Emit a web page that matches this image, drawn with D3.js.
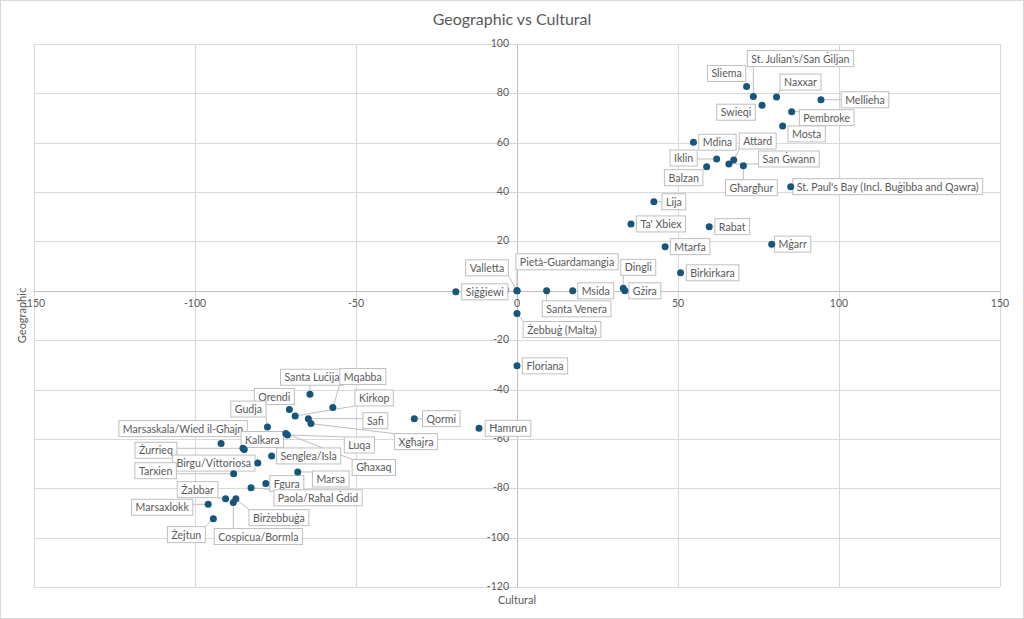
<!doctype html>
<html lang="en">
<head>
    <meta charset="UTF-8">
    <title>Geographic vs Cultural</title>
    <style>
        body { margin: 0; background: #fff; }
        svg text { font-family: Lato, "Noto Sans", sans-serif; fill: #595959; }
    </style>
</head>
<body>

<div class="canvas">
    <svg width="1024" height="619"></svg>
</div>

<script src="https://d3js.org/d3.v7.min.js"></script>
<script>
    // localities, cultural (x) and geographic (y) scores
    const names = [
        'Sliema', "St. Julian's/San Ġiljan", 'Naxxar', 'Mellieha', 'Pembroke', 'Mosta', 'Swieqi',
        'Mdina', 'Attard', 'Iklin', 'San Ġwann', 'Balzan', 'Għargħur', "St. Paul's Bay (Incl. Buġibba and Qawra)",
        'Lija', "Ta' Xbiex", 'Rabat', 'Mtarfa', 'Mġarr', 'Birkirkara', 'Dingli', 'Gżira', 'Msida',
        'Santa Venera', 'Pietà-Guardamangia', 'Valletta', 'Siġġiewi', 'Żebbuġ (Malta)', 'Floriana',
        'Qormi', 'Ħamrun', 'Santa Luċija', 'Mqabba', 'Kirkop', 'Qrendi', 'Gudja', 'Safi', 'Xgħajra',
        'Luqa', 'Għaxaq', 'Marsaskala/Wied il-Għajn', 'Kalkara', 'Żurrieq', 'Senglea/Isla',
        'Birgu/Vittoriosa', 'Tarxien', 'Marsa', 'Fgura', 'Paola/Raħal Ġdid', 'Żabbar', 'Birżebbuġa',
        'Marsaxlokk', 'Cospicua/Bormla', 'Żejtun'
    ];
    const cultural = [
        71.3, 73.4, 80.6, 94.4, 85.3, 82.5, 76.1,
        54.8, 67.3, 62.0, 65.8, 58.9, 70.3, 85.0,
        42.5, 35.4, 59.7, 46.0, 79.1, 50.8, 33.0, 33.5, 17.3,
        9.2, 0, 0, -19.0, 0, 0,
        -31.9, -11.8, -64.3, -57.2, -68.9, -70.7, -77.5, -64.8, -64.0,
        -71.3, -71.8, -91.9, -84.7, -85.1, -76.2,
        -80.5, -88.0, -68.1, -78.0, -82.6, -90.5, -87.3,
        -95.9, -88.1, -94.3
    ];
    const geographic = [
        82.8, 78.7, 78.5, 77.4, 72.6, 66.8, 75.2,
        60.2, 53.0, 53.4, 51.4, 50.3, 50.7, 42.2,
        36.1, 27.1, 26.0, 17.9, 18.9, 7.3, 1.0, 0, 0,
        0, 0, 0, -0.4, -9.2, -30.4,
        -51.8, -55.7, -41.9, -47.3, -50.7, -48.1, -55.2, -51.8, -53.8,
        -58.4, -57.8, -61.9, -64.3, -63.8, -66.9,
        -69.8, -74.1, -73.4, -78.1, -79.8, -84.2, -84.2,
        -86.5, -85.8, -92.3
    ];
    const xTicks = [-150, -100, -50, 0, 50, 100, 150];
    const yTicks = [100, 80, 60, 40, 20, 0, -20, -40, -60, -80, -100, -120];

    // where each data label was dragged to (pixel offset from its point)
    const labelOffsets = [
        [-20, -13], [47, -38], [24, -15], [44, 0], [35, 6], [24, 8], [-26, 7],
        [24, 0], [24, -19], [-33, -1], [60, -5], [-23, 11], [8, 22], [97, 0],
        [20, 0], [30, 0], [23, 0], [25, 0], [21, 0], [32, 0], [15, -21], [20, 0], [23, 0],
        [30, 18], [50, -29], [-30, -23], [29, 0], [45, 16], [28, 0],
        [27, 0], [29, 0], [2, -17], [30, -31], [79, -18], [-15, -13], [-19, -18], [67, 2], [105, 18],
        [72, 10], [88, 34], [-38, -15], [18, -10], [-87, 2], [37, 0],
        [-44, 0], [-78, -3], [33, 7], [21, 0], [67, 10], [-28, -9], [43, 19],
        [-46, 3], [25, 34], [-27, 16]
    ];

    const data = names.map((n, i) => ({
        name: n, x: cultural[i], y: geographic[i], off: labelOffsets[i]
    }));

    const svg = d3.select('.canvas svg');

    svg.append('rect')
        .attr('x', 0.5).attr('y', 0.5)
        .attr('width', 1023).attr('height', 618)
        .attr('fill', '#fff')
        .attr('stroke', '#d9d9d9');

    const x = d3.scaleLinear().domain([-150, 150]).range([34, 1000]);
    const y = d3.scaleLinear().domain([-120, 100]).range([587, 44]);

    // gridlines
    svg.append('g').selectAll('line.v')
        .data(xTicks)
        .enter().append('line')
        .attr('x1', d => Math.round(x(d)) + 0.5).attr('x2', d => Math.round(x(d)) + 0.5)
        .attr('y1', y(100)).attr('y2', y(-120))
        .attr('stroke', d => d === 0 ? '#bfbfbf' : '#d9d9d9');
    svg.append('g').selectAll('line.h')
        .data(yTicks)
        .enter().append('line')
        .attr('y1', d => Math.round(y(d)) + 0.5).attr('y2', d => Math.round(y(d)) + 0.5)
        .attr('x1', x(-150)).attr('x2', x(150))
        .attr('stroke', d => d === 0 ? '#bfbfbf' : '#d9d9d9');

    // tick labels sit on the axes crossing at 0
    svg.append('g').selectAll('text')
        .data(xTicks)
        .enter().append('text')
        .attr('x', d => x(d))
        .attr('y', y(0) + 16)
        .attr('text-anchor', 'middle')
        .attr('font-size', 10.5)
        .text(d => d);
    svg.append('g').selectAll('text')
        .data(yTicks)
        .enter().append('text')
        .attr('x', x(0) - 8)
        .attr('y', d => y(d) + 3)
        .attr('text-anchor', 'end')
        .attr('font-size', 10.5)
        .text(d => d);

    // titles
    svg.append('text')
        .attr('x', 512).attr('y', 25)
        .attr('text-anchor', 'middle')
        .attr('font-size', 16)
        .text('Geographic vs Cultural');
    svg.append('text')
        .attr('x', x(0)).attr('y', 604)
        .attr('text-anchor', 'middle')
        .attr('font-size', 11)
        .text('Cultural');
    svg.append('text')
        .attr('transform', `translate(26, ${(y(100) + y(-120)) / 2}) rotate(-90)`)
        .attr('text-anchor', 'middle')
        .attr('font-size', 11)
        .text('Geographic');

    // labels: measure text first, then lines, boxes, points
    const leaders = svg.append('g');
    const labels = svg.append('g');
    const dots = svg.append('g');

    const lab = labels.selectAll('g')
        .data(data)
        .enter().append('g');
    const txt = lab.append('text')
        .attr('font-size', 10.6)
        .attr('text-anchor', 'middle')
        .attr('x', d => x(d.x) + d.off[0])
        .attr('y', d => y(d.y) + d.off[1] + 4)
        .text(d => d.name);

    txt.each(function (d) {
        const w = this.getComputedTextLength();
        d.bw = w + 8;
        d.bh = 16;
        d.bx = x(d.x) + d.off[0] - d.bw / 2;
        d.by = y(d.y) + d.off[1] - d.bh / 2;
    });

    lab.insert('rect', 'text')
        .attr('x', d => d.bx).attr('y', d => d.by)
        .attr('width', d => d.bw).attr('height', d => d.bh)
        .attr('fill', '#fff')
        .attr('stroke', '#bfbfbf');

    data.forEach(d => {
        const px = x(d.x), py = y(d.y);
        const cx = Math.max(d.bx, Math.min(px, d.bx + d.bw));
        const cy = Math.max(d.by, Math.min(py, d.by + d.bh));
        if (Math.hypot(cx - px, cy - py) > 7) {
            leaders.append('line')
                .attr('x1', px).attr('y1', py)
                .attr('x2', cx).attr('y2', cy)
                .attr('stroke', '#bfbfbf');
        }
    });

    dots.selectAll('circle')
        .data(data)
        .enter().append('circle')
        .attr('cx', d => x(d.x))
        .attr('cy', d => y(d.y))
        .attr('r', 3.5)
        .attr('fill', '#17557a');
</script>
</body>
</html>
